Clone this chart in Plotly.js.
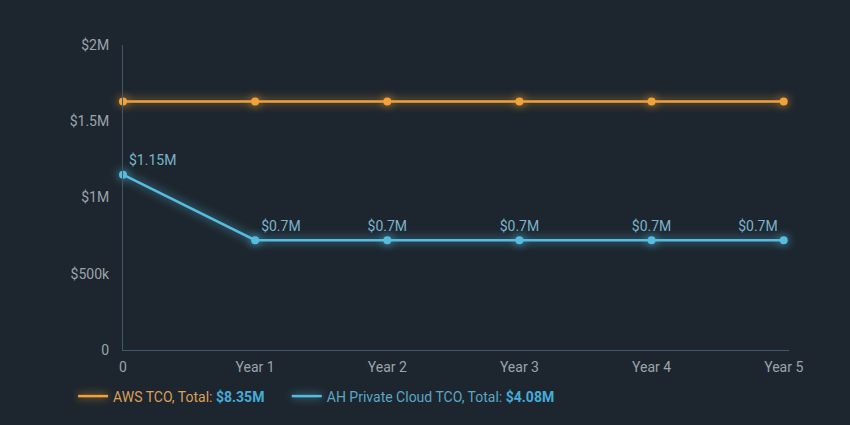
<!DOCTYPE html>
<html>
<head>
<meta charset="utf-8">
<script src="https://cdn.plot.ly/plotly-3.0.1.min.js"></script>
<style>
  html, body { margin: 0; padding: 0; background: #1d262e; }
  #chart { width: 850px; height: 425px; }
  .scatterlayer .trace:nth-child(1) path.js-line,
  .scatterlayer .trace:nth-child(1) .points path { filter: drop-shadow(0 0 5px rgba(245,160,50,0.85)); }
  .scatterlayer .trace:nth-child(2) path.js-line,
  .scatterlayer .trace:nth-child(2) .points path { filter: drop-shadow(0 0 5px rgba(90,195,235,0.85)); }
  .legend .legendpoints { display: none; }
  .legend .traces:nth-child(1) path.js-line { filter: drop-shadow(0 0 4px rgba(245,160,50,0.85)); }
  .legend .traces:nth-child(2) path.js-line { filter: drop-shadow(0 0 4px rgba(90,195,235,0.85)); }
</style>
</head>
<body>
<div id="chart"></div>
<script>
let years = ['0', 'Year 1', 'Year 2', 'Year 3', 'Year 4', 'Year 5'];
let awsTco = [1630000, 1630000, 1630000, 1630000, 1630000, 1630000];
let ahTco = [1150000, 720000, 720000, 720000, 720000, 720000];
let ahLabels = ['$1.15M', '$0.7M', '$0.7M', '$0.7M', '$0.7M', '$0.7M'];
let awsTotal = '$8.35M';
let ahTotal = '$4.08M';
let yTicks = [0, 500000, 1000000, 1500000, 2000000];
let yTickText = ['0', '$500k', '$1M', '$1.5M', '$2M'];

let orange = '#f2a23a';
let blue = '#56bde0';
let gap = '&nbsp;'.repeat(5);

let trace1 = {
  x: years,
  y: awsTco,
  mode: 'lines+markers',
  name: '<span style="color:#dc9f58">AWS TCO, Total: </span><b style="color:#45abd8">' + awsTotal + '</b>' + gap,
  line: { color: orange, width: 2.5 },
  marker: { color: orange, size: 8 },
  cliponaxis: false,
  hoverinfo: 'none'
};

let trace2 = {
  x: years,
  y: ahTco,
  mode: 'lines+markers+text',
  name: '<span style="color:#5ba7c4">AH Private Cloud TCO, Total: </span><b style="color:#45abd8">' + ahTotal + '</b>',
  text: ahLabels,
  textposition: ['top right', 'top right', 'top center', 'top center', 'top center', 'top left'],
  textfont: { color: '#7ab3cc', size: 14 },
  line: { color: blue, width: 2.5 },
  marker: { color: blue, size: 8 },
  cliponaxis: false,
  hoverinfo: 'none'
};

Plotly.newPlot('chart', [trace1, trace2], {
  width: 850,
  height: 425,
  paper_bgcolor: '#1d262e',
  plot_bgcolor: '#1d262e',
  font: { family: 'Roboto, sans-serif', size: 14, color: '#9aa4ac' },
  margin: { l: 123, r: 61, t: 45, b: 75 },
  showlegend: true,
  legend: {
    orientation: 'h',
    x: -0.075,
    xanchor: 'left',
    y: -0.1,
    yanchor: 'top',
    font: { size: 14 },
    bgcolor: 'rgba(0,0,0,0)'
  },
  xaxis: {
    type: 'category',
    range: [0, 5.04],
    showgrid: false,
    zeroline: false,
    showline: true,
    linecolor: '#3f5868',
    linewidth: 1,
    ticks: '',
    ticklabelstandoff: 4,
    tickfont: { color: '#9aa4ac', size: 14 }
  },
  yaxis: {
    range: [0, 2000000],
    tickvals: yTicks,
    ticktext: yTickText,
    showgrid: false,
    zeroline: false,
    showline: true,
    linecolor: '#3f5868',
    linewidth: 1,
    ticks: '',
    ticklabelstandoff: 10,
    tickfont: { color: '#9aa4ac', size: 14 }
  }
}, { displayModeBar: false, staticPlot: true });
</script>
</body>
</html>
